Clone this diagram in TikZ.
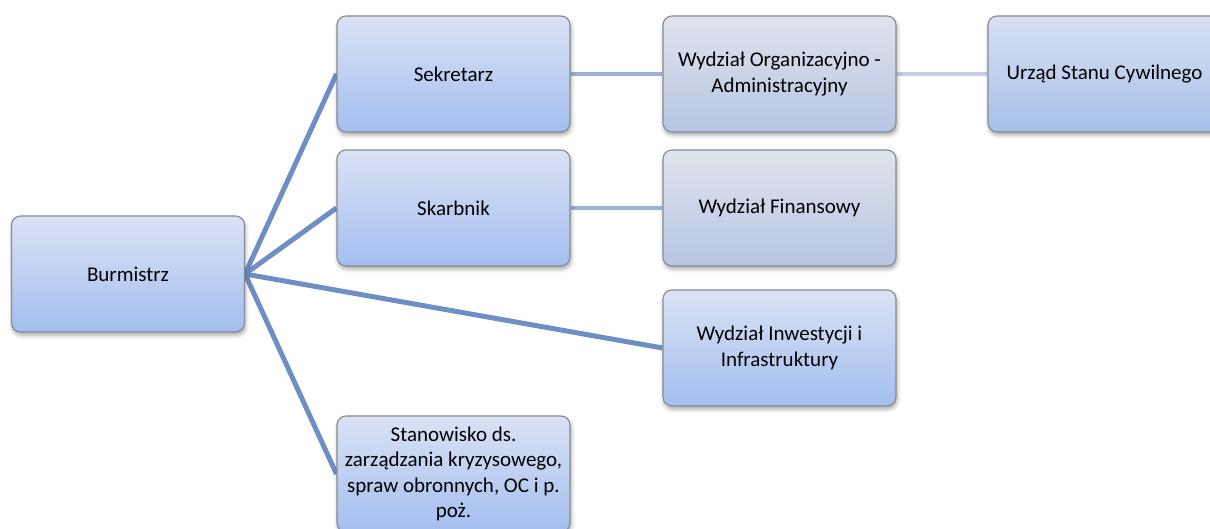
\documentclass[tikz,border=0pt]{standalone}
\usepackage{fontspec}
\setmainfont{Carlito}
\usetikzlibrary{shadows.blur,backgrounds}
\definecolor{btop}{HTML}{DAE2F4}
\definecolor{bbot}{HTML}{A3BEF0}
\definecolor{gtop}{HTML}{DFE3EC}
\definecolor{gbot}{HTML}{B7C6E3}
\definecolor{utop}{HTML}{D8E0F1}
\definecolor{ubot}{HTML}{A8C0EA}
\definecolor{boxline}{HTML}{858A94}
\definecolor{lineA}{HTML}{6F8FC4}
\definecolor{lineB}{HTML}{9DB2D8}
\definecolor{lineC}{HTML}{C3CFE8}
\tikzset{
  orgbox/.style={draw=boxline, line width=1.1pt, rounded corners=9pt,
    minimum width=233pt, minimum height=116pt, inner sep=0pt,
    align=center, font=\fontsize{21}{25.5}\selectfont,
    top color=btop, bottom color=bbot,
    blur shadow={shadow xshift=1pt, shadow yshift=-3pt, shadow blur radius=4pt, shadow opacity=35}},
  graybox/.style={orgbox, top color=gtop, bottom color=gbot},
  uscbox/.style={orgbox, top color=utop, bottom color=ubot},
  linkA/.style={draw=lineA, line width=5pt},
  linkB/.style={draw=lineB, line width=4.5pt},
  linkC/.style={draw=lineC, line width=4.5pt}
}
\begin{document}
\begin{tikzpicture}[x=1pt,y=-1pt]
\useasboundingbox (0,0) rectangle (1210,529);
\node[orgbox] (bur) at (128,274) {Burmistrz};
\node[orgbox] (sek) at (453.5,74) {Sekretarz};
\node[orgbox] (ska) at (453.5,208) {Skarbnik};
\node[orgbox] (sta) at (453.5,474) {Stanowisko ds.\\zarządzania kryzysowego,\\spraw obronnych, OC i p.\\poż.};
\node[graybox] (org) at (779.5,74) {Wydział Organizacyjno -\\Administracyjny};
\node[graybox] (fin) at (779.5,208) {Wydział Finansowy};
\node[orgbox] (inw) at (779.5,348) {Wydział Inwestycji i\\Infrastruktury};
\node[uscbox] (usc) at (1104.5,74) {Urząd Stanu Cywilnego};
\begin{scope}[on background layer]
\draw[linkA] (bur.east) -- (sek.west);
\draw[linkA] (bur.east) -- (ska.west);
\draw[linkA] (bur.east) -- (inw.west);
\draw[linkA] (bur.east) -- (sta.west);
\draw[linkB] (sek.east) -- (org.west);
\draw[linkB] (ska.east) -- (fin.west);
\draw[linkC] (org.east) -- (usc.west);
\end{scope}
\end{tikzpicture}
\end{document}
